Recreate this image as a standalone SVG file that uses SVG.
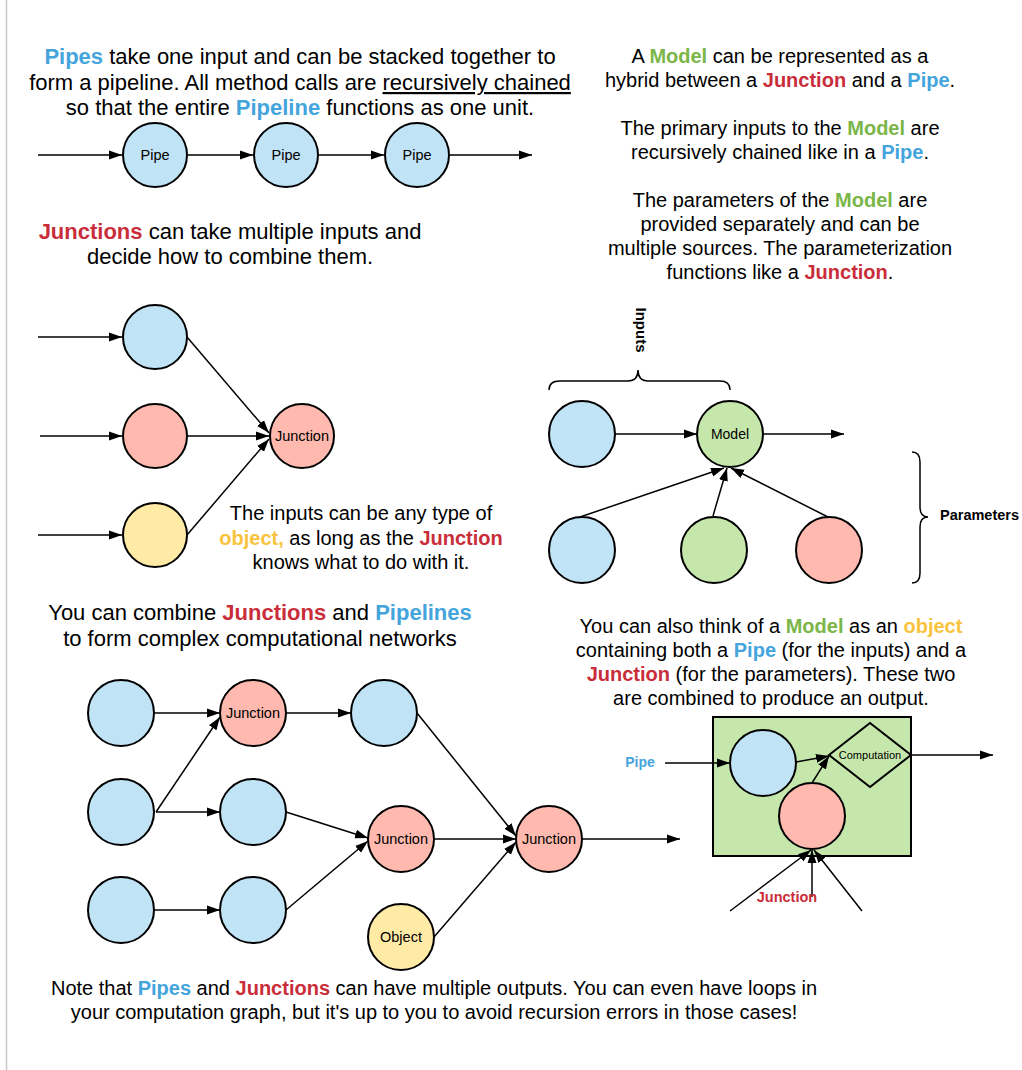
<svg xmlns="http://www.w3.org/2000/svg" width="1022" height="1070" viewBox="0 0 1022 1070">
<defs>
<marker id="ah" markerUnits="userSpaceOnUse" markerWidth="14" markerHeight="11" refX="13" refY="5.5" orient="auto">
<path d="M0,1 L13,5.5 L0,10 z" fill="#000"/>
</marker>
<style>
text{font-family:"Liberation Sans",Arial,sans-serif;fill:#000}
.t{font-size:22px;text-anchor:middle}
.t20{font-size:20px;text-anchor:middle}
.cp{fill:#44a4dc;font-weight:bold}
.cj{fill:#c92d39;font-weight:bold}
.cm{fill:#7ab648;font-weight:bold}
.co{fill:#f8c33d;font-weight:bold}
.lbl{font-size:14.5px;text-anchor:middle}
.n{stroke:#000;stroke-width:2}
.blue{fill:#c1e3f6}
.red{fill:#ffb9ae}
.yel{fill:#ffeaa6}
.grn{fill:#c6e7ab}
.c line,.c path{stroke:#000;stroke-width:1.5;fill:none}
.c .a{marker-end:url(#ah)}
</style>
</defs>
<rect x="0" y="0" width="1022" height="1070" fill="#fff"/>
<line x1="6.5" y1="0" x2="6.5" y2="1070" stroke="#c8c8c8" stroke-width="1.5"/>

<!-- texts -->
<g id="text-pipes">
<text class="t" x="300" y="64"><tspan class="cp">Pipes</tspan> take one input and can be stacked together to</text>
<text class="t" x="300" y="90">form a pipeline. All method calls are <tspan text-decoration="underline">recursively chained</tspan></text>
<text class="t" x="300" y="115">so that the entire <tspan class="cp">Pipeline</tspan> functions as one unit.</text>
</g>
<g id="text-junctions">
<text class="t" x="230" y="239"><tspan class="cj">Junctions</tspan> can take multiple inputs and</text>
<text class="t" x="230" y="264">decide how to combine them.</text>
</g>
<g id="text-inputs">
<text class="t20" x="361" y="520">The inputs can be any type of</text>
<text class="t20" x="361" y="545"><tspan class="co">object,</tspan> as long as the <tspan class="cj">Junction</tspan></text>
<text class="t20" x="361" y="569">knows what to do with it.</text>
</g>
<g id="text-model">
<text class="t20" x="780" y="63">A <tspan class="cm">Model</tspan> can be represented as a</text>
<text class="t20" x="780" y="87">hybrid between a <tspan class="cj">Junction</tspan> and a <tspan class="cp">Pipe</tspan>.</text>
<text class="t20" x="780" y="135">The primary inputs to the <tspan class="cm">Model</tspan> are</text>
<text class="t20" x="780" y="159">recursively chained like in a <tspan class="cp">Pipe</tspan>.</text>
<text class="t20" x="780" y="207">The parameters of the <tspan class="cm">Model</tspan> are</text>
<text class="t20" x="780" y="231">provided separately and can be</text>
<text class="t20" x="780" y="255">multiple sources. The parameterization</text>
<text class="t20" x="780" y="279">functions like a <tspan class="cj">Junction</tspan>.</text>
</g>
<g id="text-combine">
<text class="t" x="260" y="620">You can combine <tspan class="cj">Junctions</tspan> and <tspan class="cp">Pipelines</tspan></text>
<text class="t" x="260" y="646">to form complex computational networks</text>
</g>
<g id="text-object">
<text class="t20" x="771" y="633">You can also think of a <tspan class="cm">Model</tspan> as an <tspan class="co">object</tspan></text>
<text class="t20" x="771" y="657">containing both a <tspan class="cp">Pipe</tspan> (for the inputs) and a</text>
<text class="t20" x="771" y="681"><tspan class="cj">Junction</tspan> (for the parameters). These two</text>
<text class="t20" x="771" y="705">are combined to produce an output.</text>
</g>
<g id="text-note">
<text class="t20" x="434" y="995">Note that <tspan class="cp">Pipes</tspan> and <tspan class="cj">Junctions</tspan> can have multiple outputs. You can even have loops in</text>
<text class="t20" x="434" y="1019">your computation graph, but it's up to you to avoid recursion errors in those cases!</text>
</g>

<!-- model container -->
<g id="model-box">
<rect x="713" y="717" width="198" height="139" class="grn" stroke="#000" stroke-width="2"/>
</g>

<!-- connectors -->
<g id="connectors" class="c">
<line class="a" x1="38" y1="155" x2="122" y2="155"/>
<line class="a" x1="188" y1="155" x2="253" y2="155"/>
<line class="a" x1="319" y1="155" x2="384" y2="155"/>
<line class="a" x1="450" y1="155" x2="532" y2="155"/>

<line class="a" x1="38" y1="337" x2="122" y2="337"/>
<line class="a" x1="40" y1="436" x2="122" y2="436"/>
<line class="a" x1="38" y1="535" x2="122" y2="535"/>
<line class="a" x1="187" y1="337" x2="269" y2="433"/>
<line class="a" x1="187" y1="436" x2="269" y2="436"/>
<line class="a" x1="187" y1="535" x2="269" y2="439"/>

<line class="a" x1="615" y1="434" x2="697" y2="434"/>
<line class="a" x1="763" y1="434" x2="844" y2="434"/>
<line class="a" x1="580" y1="517" x2="724" y2="468"/>
<line class="a" x1="713" y1="516" x2="727" y2="468"/>
<line class="a" x1="828" y1="517" x2="731" y2="468"/>
<path d="M549,390 Q549,381 560,381 L628,381 Q638,381 638,370 Q638,381 648,381 L720,381 Q730,381 730,390"/>
<path d="M912,452 Q920,452 920,462 L920,507 Q920,517 928,517 Q920,517 920,527 L920,573 Q920,583 912,583"/>

<line class="a" x1="154" y1="713" x2="220" y2="713"/>
<line class="a" x1="156" y1="812" x2="220" y2="717"/>
<line class="a" x1="156" y1="812" x2="220" y2="812"/>
<line class="a" x1="154" y1="910" x2="220" y2="910"/>
<line class="a" x1="286" y1="713" x2="351" y2="713"/>
<line class="a" x1="286" y1="812" x2="368" y2="838"/>
<line class="a" x1="286" y1="910" x2="368" y2="841"/>
<line class="a" x1="417" y1="713" x2="516" y2="836"/>
<line class="a" x1="434" y1="839" x2="516" y2="839"/>
<line class="a" x1="434" y1="937" x2="516" y2="842"/>
<line class="a" x1="582" y1="839" x2="680" y2="839"/>

<line class="a" x1="665" y1="763" x2="730" y2="763"/>
<line class="a" x1="796" y1="762" x2="829" y2="756"/>
<line class="a" x1="812" y1="783" x2="829" y2="756"/>
<line class="a" x1="911" y1="755" x2="993" y2="755"/>
<line class="a" x1="730" y1="911" x2="811" y2="850"/>
<line class="a" x1="812" y1="897" x2="812" y2="850"/>
<line class="a" x1="862" y1="911" x2="814" y2="850"/>
</g>

<!-- nodes: pipeline -->
<g id="pipe1"><circle class="n blue" cx="155" cy="155" r="32"/><text class="lbl" x="155" y="160">Pipe</text></g>
<g id="pipe2"><circle class="n blue" cx="286" cy="155" r="32"/><text class="lbl" x="286" y="160">Pipe</text></g>
<g id="pipe3"><circle class="n blue" cx="417" cy="155" r="32"/><text class="lbl" x="417" y="160">Pipe</text></g>

<!-- junction example -->
<g id="j-in-blue"><circle class="n blue" cx="155" cy="337" r="32"/></g>
<g id="j-in-red"><circle class="n red" cx="155" cy="436" r="32"/></g>
<g id="j-in-yellow"><circle class="n yel" cx="155" cy="535" r="32"/></g>
<g id="junction-a"><circle class="n red" cx="302" cy="436" r="32"/><text class="lbl" x="302" y="441">Junction</text></g>

<!-- model example -->
<g id="m-in"><circle class="n blue" cx="582" cy="434" r="33"/></g>
<g id="model"><circle class="n grn" cx="730" cy="434" r="33"/><text class="lbl" x="730" y="439" style="font-size:14px">Model</text></g>
<g id="m-p1"><circle class="n blue" cx="582" cy="550" r="33"/></g>
<g id="m-p2"><circle class="n grn" cx="714" cy="550" r="33"/></g>
<g id="m-p3"><circle class="n red" cx="829" cy="550" r="33"/></g>
<g id="lbl-inputs"><text transform="translate(636,330) rotate(90)" text-anchor="middle" font-size="15" font-weight="bold">Inputs</text></g>
<g id="lbl-params"><text x="940" y="520" font-size="14.5" font-weight="bold">Parameters</text></g>

<!-- network -->
<g id="n-b1"><circle class="n blue" cx="121" cy="713" r="33"/></g>
<g id="n-j1"><circle class="n red" cx="253" cy="713" r="33"/><text class="lbl" x="253" y="718">Junction</text></g>
<g id="n-b3"><circle class="n blue" cx="384" cy="713" r="33"/></g>
<g id="n-b4"><circle class="n blue" cx="121" cy="812" r="33"/></g>
<g id="n-b5"><circle class="n blue" cx="253" cy="812" r="33"/></g>
<g id="n-j2"><circle class="n red" cx="401" cy="839" r="33"/><text class="lbl" x="401" y="844">Junction</text></g>
<g id="n-j3"><circle class="n red" cx="549" cy="839" r="33"/><text class="lbl" x="549" y="844">Junction</text></g>
<g id="n-b6"><circle class="n blue" cx="121" cy="910" r="33"/></g>
<g id="n-b7"><circle class="n blue" cx="253" cy="910" r="33"/></g>
<g id="n-obj"><circle class="n yel" cx="401" cy="937" r="33"/><text class="lbl" x="401" y="942">Object</text></g>

<!-- model internals -->
<g id="mb-pipe"><circle class="n blue" cx="763" cy="763" r="33"/></g>
<g id="mb-junction"><circle class="n red" cx="812" cy="816" r="33"/></g>
<g id="mb-comp"><path class="n" d="M829,755 L870,723 L911,755 L870,787 z" fill="none"/><text x="870" y="759" font-size="11" text-anchor="middle">Computation</text></g>
<g id="lbl-pipe"><text x="640" y="767" font-size="14" text-anchor="middle" class="cp">Pipe</text></g>
<g id="lbl-junction"><text x="787" y="902" font-size="14.5" text-anchor="middle" class="cj">Junction</text></g>
</svg>
